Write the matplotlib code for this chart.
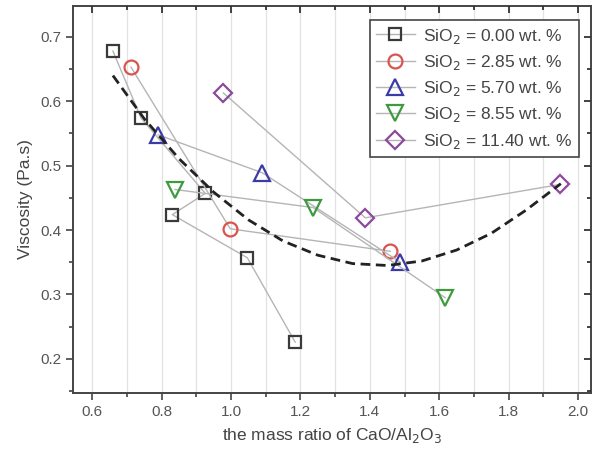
import numpy as np
import matplotlib
matplotlib.use('Agg')
from matplotlib import pyplot as plt

plt.rcParams['font.family'] = ['Liberation Sans', 'DejaVu Sans']

# CaO/Al2O3 ratio and viscosity for each SiO2 content
x_00 = [0.66, 0.741, 0.926, 0.831, 1.047, 1.185]
y_00 = [0.678, 0.574, 0.457, 0.424, 0.357, 0.226]
x_285 = [0.712, 0.998, 1.459]
y_285 = [0.653, 0.402, 0.367]
x_570 = [0.79, 1.09, 1.488]
y_570 = [0.548, 0.489, 0.35]
x_855 = [0.839, 1.237, 1.617]
y_855 = [0.463, 0.435, 0.295]
x_1140 = [0.978, 1.387, 1.949]
y_1140 = [0.613, 0.419, 0.471]

# dashed fit curve
fit_x = [0.66, 0.75, 0.85, 0.95, 1.05, 1.15, 1.25, 1.35, 1.45, 1.55, 1.65, 1.75, 1.85, 1.95]
fit_y = [0.640, 0.573, 0.511, 0.459, 0.416, 0.383, 0.361, 0.348, 0.345, 0.352, 0.369, 0.395, 0.431, 0.472]

labels = ['SiO$_2$ = 0.00 wt. %', 'SiO$_2$ = 2.85 wt. %', 'SiO$_2$ = 5.70 wt. %',
          'SiO$_2$ = 8.55 wt. %', 'SiO$_2$ = 11.40 wt. %']

series = [(x_00, y_00, 's', '#3a3a3a', 9),
          (x_285, y_285, 'o', '#d9534f', 10),
          (x_570, y_570, '^', '#3a3aa8', 11),
          (x_855, y_855, 'v', '#3f9a3f', 11),
          (x_1140, y_1140, 'D', '#8a4a9a', 9)]

xlim = (0.545, 2.037)
ylim = (0.147, 0.748)
xmaj = np.arange(0.6, 2.01, 0.2)
xmin = np.arange(0.7, 2.01, 0.2)
ymaj = np.arange(0.2, 0.71, 0.1)
ymin = np.arange(0.15, 0.75, 0.1)

fig = plt.figure(figsize=(5.96, 4.55), dpi=100)
ax = fig.add_axes([0.1225, 0.1363, 0.8691, 0.8505])

for (xs, ys, m, c, ms), lab in zip(series, labels):
    ax.plot(xs, ys, color='#b5b5b5', lw=1.0, marker=m, markersize=ms,
            markerfacecolor='none', markeredgecolor=c, markeredgewidth=1.6,
            label=lab, zorder=3)

ax.plot(fit_x, fit_y, ls=(0, (3.5, 2)), color='#222222', lw=2.0, zorder=4)

ax.set_xlim(*xlim)
ax.set_ylim(*ylim)
ax.set_xticks(xmaj)
ax.set_xticks(xmin, minor=True)
ax.set_yticks(ymaj)
ax.set_yticks(ymin, minor=True)
ax.set_xticklabels(['0.6', '0.8', '1.0', '1.2', '1.4', '1.6', '1.8', '2.0'])
ax.set_yticklabels(['0.2', '0.3', '0.4', '0.5', '0.6', '0.7'])

ax.grid(True, axis='x', which='both', color='#e2e2e2', lw=0.9, zorder=0)
for s in ax.spines.values():
    s.set_color('#444444')
    s.set_linewidth(1.4)
ax.tick_params(which='major', direction='out', color='#444444', width=1.2, length=5,
               labelsize=11, labelcolor='#555555')
ax.tick_params(which='minor', direction='out', color='#444444', width=1.2, length=3)

# mirrored inward ticks on top and right, placed at the tick values
xt = ax.get_xaxis_transform()
yt = ax.get_yaxis_transform()
ax.vlines(xmaj, 1 - 0.018, 1, transform=xt, color='#333333', lw=1.3, clip_on=False, zorder=5)
ax.vlines(xmin, 1 - 0.010, 1, transform=xt, color='#333333', lw=1.3, clip_on=False, zorder=5)
ax.hlines(ymaj, 1 - 0.0135, 1, transform=yt, color='#333333', lw=1.3, clip_on=False, zorder=5)
ax.hlines(ymin, 1 - 0.0077, 1, transform=yt, color='#333333', lw=1.3, clip_on=False, zorder=5)

ax.set_xlabel('the mass ratio of CaO/Al$_2$O$_3$', fontsize=12.5, color='#444444', labelpad=5)
ax.set_ylabel('Viscosity (Pa.s)', fontsize=12.5, color='#444444', labelpad=5)

leg = ax.legend(loc='upper right', bbox_to_anchor=(0.993, 0.985), fontsize=12.5,
                fancybox=False, edgecolor='#444444', framealpha=1,
                handlelength=2.2, labelspacing=0.42, borderpad=0.35, handletextpad=0.5)
leg.get_frame().set_linewidth(1.2)
for t in leg.get_texts():
    t.set_color('#444444')

fig.savefig('out.png', dpi=100)
